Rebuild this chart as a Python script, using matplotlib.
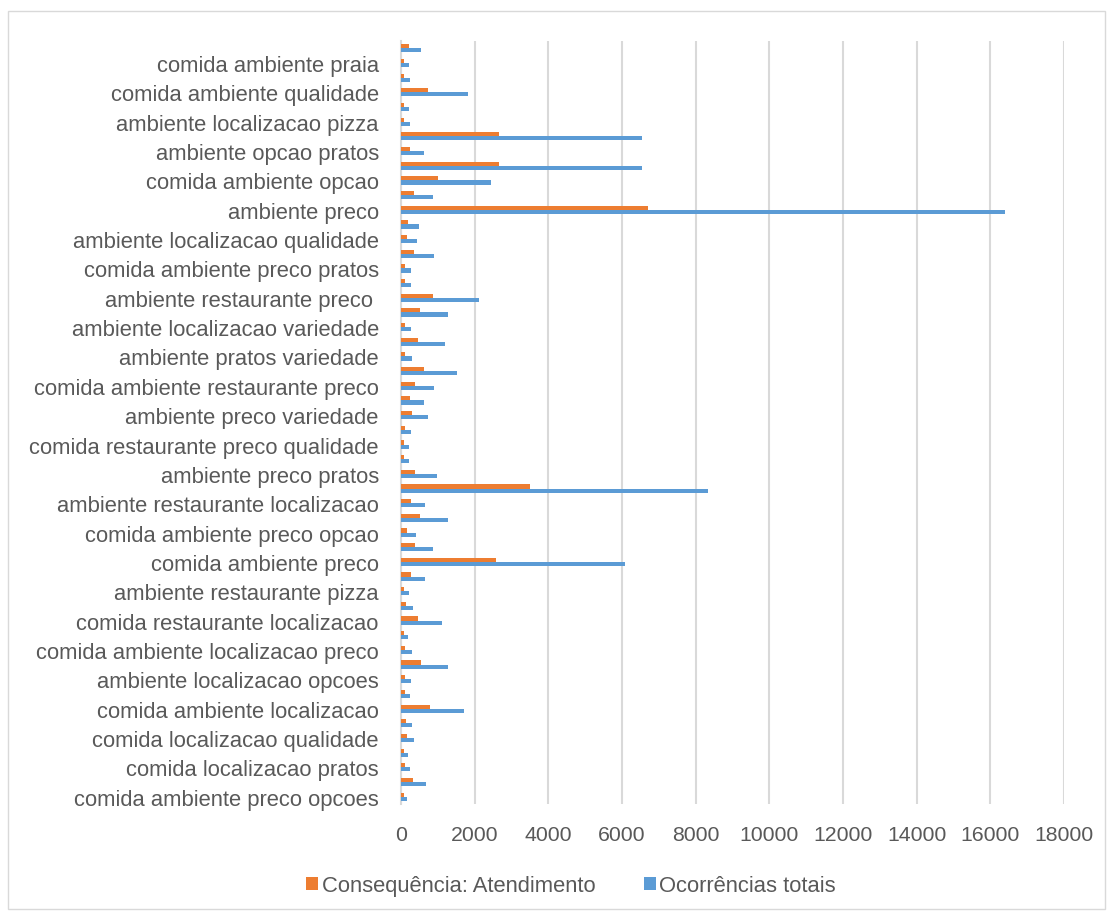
import matplotlib.pyplot as plt
from matplotlib.patches import Rectangle
import numpy as np

# categories from bottom to top (only every other one gets a label in the original chart)
labels = [
    "comida ambiente preco opcoes", "",
    "comida localizacao pratos", "",
    "comida localizacao qualidade", "",
    "comida ambiente localizacao", "",
    "ambiente localizacao opcoes", "",
    "comida ambiente localizacao preco", "",
    "comida restaurante localizacao", "",
    "ambiente restaurante pizza", "",
    "comida ambiente preco", "",
    "comida ambiente preco opcao", "",
    "ambiente restaurante localizacao", "",
    "ambiente preco pratos", "",
    "comida restaurante preco qualidade", "",
    "ambiente preco variedade", "",
    "comida ambiente restaurante preco", "",
    "ambiente pratos variedade", "",
    "ambiente localizacao variedade", "",
    "ambiente restaurante preco ", "",
    "comida ambiente preco pratos", "",
    "ambiente localizacao qualidade", "",
    "ambiente preco", "",
    "comida ambiente opcao", "",
    "ambiente opcao pratos", "",
    "ambiente localizacao pizza", "",
    "comida ambiente qualidade", "",
    "comida ambiente praia", "",
]

atendimento = [73, 327, 100, 73, 155, 127, 782, 100, 100, 545,
               118, 73, 473, 127, 82, 264, 2591, 373, 164, 527,
               264, 3500, 391, 82, 82, 100, 300, 245, 373, 618,
               109, 473, 100, 509, 864, 100, 100, 364, 164, 191,
               6718, 345, 991, 2663, 245, 2654, 82, 73, 727, 91,
               73, 209]

ocorrencias = [155, 682, 245, 200, 355, 309, 1718, 245, 264, 1273,
               291, 182, 1100, 336, 227, 645, 6081, 873, 418, 1282,
               655, 8345, 964, 209, 218, 264, 736, 618, 909, 1509,
               300, 1200, 273, 1282, 2109, 282, 282, 909, 427, 491,
               16400, 873, 2436, 6554, 627, 6554, 245, 209, 1809, 255,
               218, 555]

xticks = list(range(0, 18001, 2000))

plt.rcParams['font.family'] = ['Liberation Sans', 'DejaVu Sans']
fs = 15.8

fig = plt.figure(figsize=(11.13, 9.2), dpi=100)
ax = fig.add_axes([401/1113, 1 - 805/920, 663/1113, 763/920])

y = np.arange(len(labels))
h = 0.28
ax.barh(y + h/2, atendimento, height=h, color='#ED7D31', label='Consequência: Atendimento', zorder=3)
ax.barh(y - h/2, ocorrencias, height=h, color='#5B9BD5', label='Ocorrências totais', zorder=3)

ax.set_xlim(0, 18000)
ax.set_ylim(-0.5, len(labels) - 0.5)
ax.set_xticks(xticks)
ax.set_xticklabels([str(t) for t in xticks], fontsize=15.3, color='#595959')
ax.set_yticks(y)
ax.set_yticklabels(labels, fontsize=fs, color='#595959')
ax.tick_params(axis='y', length=0, pad=16)
ax.tick_params(axis='x', length=0, pad=15)
ax.grid(axis='x', color='#D9D9D9', linewidth=1.5, zorder=0)
for s in ['top', 'right', 'bottom']:
    ax.spines[s].set_visible(False)
ax.spines['left'].set_color('#D9D9D9')
ax.spines['left'].set_linewidth(1.5)

ax.legend(loc='center', bbox_to_anchor=(571/1113, 1 - 887/920), bbox_transform=fig.transFigure,
          ncol=2, frameon=False, fontsize=fs, handlelength=0.55, handleheight=0.55,
          handletextpad=0.15, columnspacing=2.2, labelcolor='#595959')

fig.patches.append(Rectangle((8/1113, 1 - 910/920), 1097/1113, 898/920, transform=fig.transFigure,
                             fill=False, edgecolor='#D9D9D9', linewidth=1))

plt.savefig('out.png', dpi=100)
